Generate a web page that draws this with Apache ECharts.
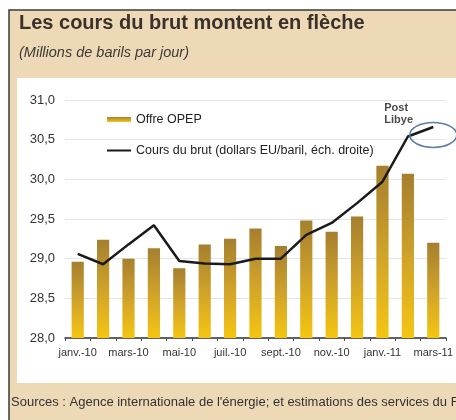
<!DOCTYPE html>
<html>
<head>
<meta charset="utf-8">
<script src="https://cdn.jsdelivr.net/npm/echarts@6/dist/echarts.min.js"></script>
<style>
  html, body { margin: 0; padding: 0; background: #fff; }
  #chart { width: 456px; height: 420px; }
</style>
</head>
<body>
<div id="chart"></div>
<script>
var months = ['janv.-10', 'févr.-10', 'mars-10', 'avr.-10', 'mai-10', 'juin-10', 'juil.-10', 'août-10',
  'sept.-10', 'oct.-10', 'nov.-10', 'déc.-10', 'janv.-11', 'févr.-11', 'mars-11'];
// offre OPEP, millions de barils par jour
var opepSupply = [28.96, 29.24, 29.0, 29.13, 28.88, 29.18, 29.25, 29.38, 29.16, 29.48, 29.34, 29.53, 30.17, 30.07, 29.2];
// cours du brut, lu sur l'echelle de gauche (echelle droite non graduee)
var crudePrice = [29.06, 28.93, 29.18, 29.42, 28.97, 28.94, 28.93, 29.0, 29.0, 29.3, 29.45, 29.7, 29.97, 30.54, 30.66];
var yTicks = { min: 28, max: 31, step: 0.5 };

var font = 'Liberation Sans, Arial, sans-serif';
var sourceText = 'Sources : Agence internationale de l\'énergie; et estimations des services du FMI.';
var chart = echarts.init(document.getElementById('chart'), null, { renderer: 'canvas' });

function frame() {
  return [
    { type: 'rect', z: -10, shape: { x: 9, y: 10, width: 460, height: 420 },
      style: { fill: '#eed9b6', stroke: '#3a3a3a', lineWidth: 1.5 } },
    { type: 'rect', z: -9, shape: { x: 17, y: 78, width: 450, height: 305 },
      style: { fill: '#fff' } },
    { type: 'text', left: 11, top: 396, z: 5,
      style: { text: sourceText, fontSize: 13, fill: '#333', fontFamily: font } }
  ];
}

chart.setOption({
  animation: false,
  backgroundColor: '#fff',
  textStyle: { fontFamily: font },
  title: {
    text: 'Les cours du brut montent en flèche',
    subtext: '(Millions de barils par jour)',
    left: 19,
    top: 13,
    padding: 0,
    itemGap: 12,
    textStyle: { fontSize: 20, fontWeight: 'bold', color: '#3b302b', fontFamily: font },
    subtextStyle: { fontSize: 14.5, fontStyle: 'italic', color: '#3a3a3a', fontFamily: font }
  },
  legend: {
    orient: 'vertical',
    left: 106,
    top: 113,
    padding: 0,
    itemGap: 18,
    itemWidth: 24,
    itemHeight: 5,
    textStyle: { fontSize: 12.5, color: '#222' },
    data: [
      { name: 'Offre OPEP', icon: 'rect' },
      { name: 'Cours du brut (dollars EU/baril, éch. droite)', itemStyle: { opacity: 0 } }
    ]
  },
  grid: { left: 65, right: 9, top: 100, bottom: 82 },
  xAxis: {
    type: 'category',
    data: months,
    axisLine: { lineStyle: { color: '#333', width: 1.5 } },
    axisTick: { show: true, interval: 0, length: 3, lineStyle: { color: '#3a4a6a' } },
    axisLabel: { interval: 1, fontSize: 11, color: '#333', margin: 9 }
  },
  yAxis: [{
    type: 'value',
    min: yTicks.min,
    max: yTicks.max,
    interval: yTicks.step,
    axisLine: { show: false },
    axisTick: { show: false },
    axisLabel: {
      fontSize: 13, color: '#333', margin: 10,
      formatter: function(v) { return v.toFixed(1).replace('.', ','); }
    },
    splitLine: { lineStyle: { color: '#e4e4e4' } }
  }, {
    type: 'value',
    min: yTicks.min,
    max: yTicks.max,
    show: false,
    splitLine: { show: false }
  }],
  graphic: frame(),
  series: [{
    name: 'Offre OPEP',
    type: 'bar',
    data: opepSupply,
    barWidth: '48%',
    itemStyle: {
      color: new echarts.graphic.LinearGradient(0, 0, 0, 1, [
        { offset: 0, color: '#a57f2e' },
        { offset: 0.5, color: '#cfa22a' },
        { offset: 1, color: '#f5c511' }
      ])
    }
  }, {
    name: 'Cours du brut (dollars EU/baril, éch. droite)',
    type: 'line',
    yAxisIndex: 1,
    data: crudePrice,
    symbol: 'none',
    lineStyle: { color: '#1a1a1a', width: 2.5 },
    itemStyle: { color: '#1a1a1a' }
  }]
});

// annotation "Post Libye" autour du dernier point
var last = crudePrice.length - 1;
var p = chart.convertToPixel({ xAxisIndex: 0, yAxisIndex: 1 }, [last, crudePrice[last]]);
chart.setOption({
  graphic: frame().concat([
    { type: 'ellipse', z: 20, shape: { cx: p[0], cy: p[1] + 8, rx: 23.5, ry: 12.5 },
      style: { fill: 'none', stroke: '#5b7ea8', lineWidth: 1.6 } },
    { type: 'text', z: 20, x: p[0] - 49, y: p[1] - 25,
      style: { text: 'Post\nLibye', fontSize: 11, lineHeight: 12, fontWeight: 'bold', fill: '#4a4a4a', fontFamily: font } }
  ])
}, { replaceMerge: ['graphic'] });
</script>
</body>
</html>
